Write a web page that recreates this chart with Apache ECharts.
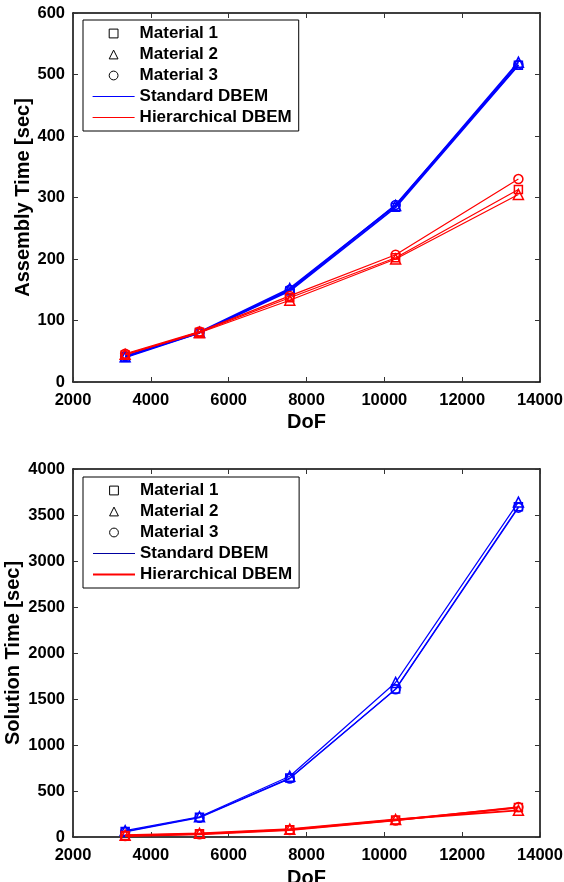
<!DOCTYPE html>
<html>
<head>
<meta charset="utf-8">
<script src="https://cdn.jsdelivr.net/npm/echarts@6/dist/echarts.min.js"></script>
<style>html,body{margin:0;padding:0;background:#fff;}#c{width:564px;height:882px;}</style>
</head>
<body>
<div id="c"></div>
<script>
// ---- data ----
const dof = [3340, 5250, 7570, 10290, 13445];
const xTicks = [2000, 14000, 2000]; // min, max, interval

const asmStdM1 = [40, 80, 148, 284, 515];
const asmStdM2 = [41, 81, 152, 287, 520];
const asmStdM3 = [42, 80, 150, 288, 516];
const asmHierM1 = [44, 81, 137, 202, 313];
const asmHierM2 = [45, 80, 133, 200, 305];
const asmHierM3 = [46, 82, 140, 207, 330];
const asmTicks = [0, 600, 100];

const solStdM1 = [60, 215, 640, 1610, 3590];
const solStdM2 = [70, 220, 660, 1680, 3640];
const solStdM3 = [55, 210, 635, 1605, 3580];
const solHierM1 = [15, 35, 80, 185, 320];
const solHierM2 = [20, 40, 85, 190, 290];
const solHierM3 = [10, 30, 75, 180, 325];
const solTicks = [0, 4000, 500];

const legendNames = ['Material 1', 'Material 2', 'Material 3', 'Standard DBEM', 'Hierarchical DBEM'];
const materialSymbols = ['rect', 'triangle', 'circle'];
const markerSizes = [8, 10, 9];

// ---- styling ----
const FONT = 'Liberation Sans, Arial, Helvetica, sans-serif';
const BLUE = '#0000FF', RED = '#FF0000', NAVY = '#0000A0';

function pairs(ys) { return dof.map((x, i) => [x, ys[i]]); }

function dataSeries(name, ys, color, lw, matIdx, gi, z) {
  return {
    name: name, type: 'line', xAxisIndex: gi * 2, yAxisIndex: gi * 2,
    data: pairs(ys), symbol: materialSymbols[matIdx], symbolSize: markerSizes[matIdx],
    showSymbol: true, animation: false, z: z,
    lineStyle: { color: color, width: lw },
    itemStyle: { color: 'rgba(0,0,0,0)', borderColor: color, borderWidth: 1.5 }
  };
}

function axisPair(gi, ticks, isX, name, nameGap) {
  const common = {
    type: 'value', gridIndex: gi, min: ticks[0], max: ticks[1], interval: ticks[2],
    splitLine: { show: false },
    axisLine: { show: true, onZero: false, lineStyle: { color: '#000', width: 1.5 } },
    axisTick: { show: true, inside: true, length: 5, lineStyle: { color: '#333', width: 1 } }
  };
  const main = Object.assign({}, common, {
    position: isX ? 'bottom' : 'left',
    name: name, nameLocation: 'middle', nameGap: nameGap, nameMoveOverlap: false,
    nameTextStyle: { fontFamily: FONT, fontWeight: 'bold', fontSize: 20, color: '#000',
      verticalAlign: isX ? 'top' : 'bottom' },
    axisLabel: { show: true, fontFamily: FONT, fontWeight: 'bold', fontSize: 16.5, color: '#000',
      margin: isX ? 10 : 8, formatter: function (v) { return String(v); } }
  });
  const opp = Object.assign({}, common, {
    position: isX ? 'top' : 'right',
    axisLabel: { show: false }
  });
  return [main, opp];
}

function legend(top, stdColor, stdWidth, hierWidth) {
  const hideSym = { color: 'rgba(0,0,0,0)', borderColor: 'rgba(0,0,0,0)', borderWidth: 0, opacity: 0 };
  const matSym = { color: '#fff', borderColor: '#000', borderWidth: 1 };
  return {
    orient: 'vertical', left: 83, top: top, selectedMode: false,
    backgroundColor: '#fff', borderColor: '#000', borderWidth: 1,
    padding: [5, 7, 5, 9], itemGap: 4, itemWidth: 42, itemHeight: 11,
    textStyle: { fontFamily: FONT, fontWeight: 'bold', fontSize: 17, lineHeight: 17, color: '#000' },
    data: [
      { name: legendNames[0], itemStyle: matSym }, { name: legendNames[1], itemStyle: matSym },
      { name: legendNames[2], itemStyle: matSym },
      { name: legendNames[3], lineStyle: { color: stdColor, width: stdWidth, opacity: 1 }, itemStyle: hideSym },
      { name: legendNames[4], lineStyle: { color: RED, width: hierWidth, opacity: 1 }, itemStyle: hideSym }
    ]
  };
}

const series = [];
// legend dummy series
for (let m = 0; m < 3; m++) {
  series.push({
    name: legendNames[m], type: 'line', data: [], symbol: materialSymbols[m], symbolSize: markerSizes[m],
    xAxisIndex: 0, yAxisIndex: 0,
    lineStyle: { width: 0, opacity: 0, color: '#000' },
    itemStyle: { color: '#fff', borderColor: '#000', borderWidth: 1 }
  });
}
series.push({ name: legendNames[3], type: 'line', data: [], symbol: 'none', xAxisIndex: 0, yAxisIndex: 0,
  lineStyle: { color: BLUE, width: 1.2 }, itemStyle: { color: BLUE } });
series.push({ name: legendNames[4], type: 'line', data: [], symbol: 'none', xAxisIndex: 0, yAxisIndex: 0,
  lineStyle: { color: RED, width: 1.2 }, itemStyle: { color: RED } });

// top chart
[asmStdM1, asmStdM2, asmStdM3].forEach((ys, m) => series.push(dataSeries('asmStd' + m, ys, BLUE, 1.8, m, 0, 3)));
[asmHierM1, asmHierM2, asmHierM3].forEach((ys, m) => series.push(dataSeries('asmHier' + m, ys, RED, 1.2, m, 0, 4)));
// bottom chart
[solStdM1, solStdM2, solStdM3].forEach((ys, m) => series.push(dataSeries('solStd' + m, ys, BLUE, 1.2, m, 1, 3)));
[solHierM1, solHierM2, solHierM3].forEach((ys, m) => series.push(dataSeries('solHier' + m, ys, RED, 1.8, m, 1, 4)));

const xa0 = axisPair(0, xTicks, true, 'DoF', 30);
const xa1 = axisPair(1, xTicks, true, 'DoF', 31);
const ya0 = axisPair(0, asmTicks, false, 'Assembly Time [sec]', 40);
const ya1 = axisPair(1, solTicks, false, 'Solution Time [sec]', 50);

const option = {
  backgroundColor: '#fff',
  animation: false,
  grid: [
    { left: 73, right: 24, top: 13, height: 369, outerBoundsMode: 'none', containLabel: false },
    { left: 73, right: 24, top: 469, height: 368, outerBoundsMode: 'none', containLabel: false }
  ],
  xAxis: [xa0[0], xa0[1], xa1[0], xa1[1]],
  yAxis: [ya0[0], ya0[1], ya1[0], ya1[1]],
  legend: [legend(20, BLUE, 1.2, 1.2), legend(477, NAVY, 1.2, 2)],
  series: series
};

const chart = echarts.init(document.getElementById('c'), null, { renderer: 'canvas' });
chart.setOption(option);
</script>
</body>
</html>
